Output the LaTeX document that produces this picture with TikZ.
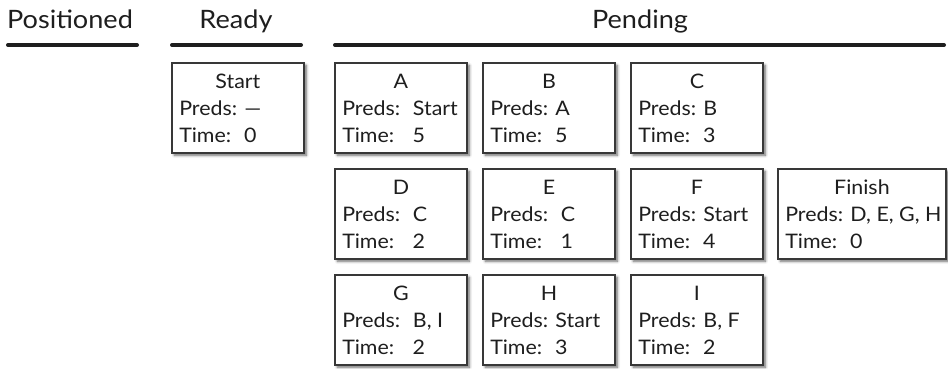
\documentclass[tikz,border=0pt]{standalone}
\usepackage{fontspec}
\setmainfont{Lato}[FakeStretch=1.07]
\usepackage{tikz}
\usetikzlibrary{shadows.blur}
\definecolor{boxline}{HTML}{383838}
\definecolor{ink}{HTML}{1E1E1E}

% one task card: name, position, title, predecessors, time
\newcommand\task[6][]{%
  \node[card,#1] (#2) at (#3) {};
  \node[cardtext,anchor=base] (#2-name) at ([yshift=-19.5pt]#2.north) {#4};
  \node[cardtext,anchor=base west] (#2-preds) at ([xshift=6pt,yshift=-39.75pt]#2.north west) {Preds:#5};
  \node[cardtext,anchor=base west] (#2-time) at ([xshift=6pt,yshift=-60pt]#2.north west) {Time:#6};
}

\begin{document}
\begin{tikzpicture}[
    x=0.75pt,y=-0.75pt,
    every node/.style={text=ink},
    head/.style={font=\fontsize{19}{22}\selectfont,anchor=base,inner sep=0pt},
    cardtext/.style={font=\fontsize{15}{17}\selectfont,inner sep=0pt},
    rule/.style={line width=3pt,line cap=round,draw=ink},
    card/.style={rectangle,draw=boxline,line width=1.4pt,fill=white,anchor=north west,
      minimum width=99pt,minimum height=67.5pt,inner sep=0pt,
      blur shadow={shadow xshift=1.8pt,shadow yshift=-1.8pt,shadow blur radius=2pt,shadow opacity=60}},
    wide/.style={minimum width=126pt}
  ]
  \useasboundingbox (0,0) rectangle (948,368);
  % column headings
  \node[head] (positioned) at (70,28) {Positioned};
  \node[head] (ready) at (236,28) {Ready};
  \node[head] (pending) at (640,28) {Pending};
  \draw[rule] (8,45) -- (137,45);
  \draw[rule] (172,45) -- (301,45);
  \draw[rule] (335,45) -- (944,45);
  % ready
  \task{start}{171,62}{Start}{ —}{~ 0}
  % pending
  \task{a}{334,62}{A}{~ Start}{~~ 5}
  \task{b}{482,62}{B}{ A}{~ 5}
  \task{c}{630,62}{C}{ B}{~ 3}
  \task{d}{334,168}{D}{~ C}{~~ 2}
  \task{e}{482,168}{E}{~ C}{~~ 1}
  \task{f}{630,168}{F}{ Start}{~ 4}
  \task[wide]{finish}{777,168}{Finish}{ D, E, G, H}{~ 0}
  \task{g}{334,274}{G}{~ B, I}{~~ 2}
  \task{h}{482,274}{H}{ Start}{~ 3}
  \task{i}{630,274}{I}{ B, F}{~ 2}
\end{tikzpicture}
\end{document}
